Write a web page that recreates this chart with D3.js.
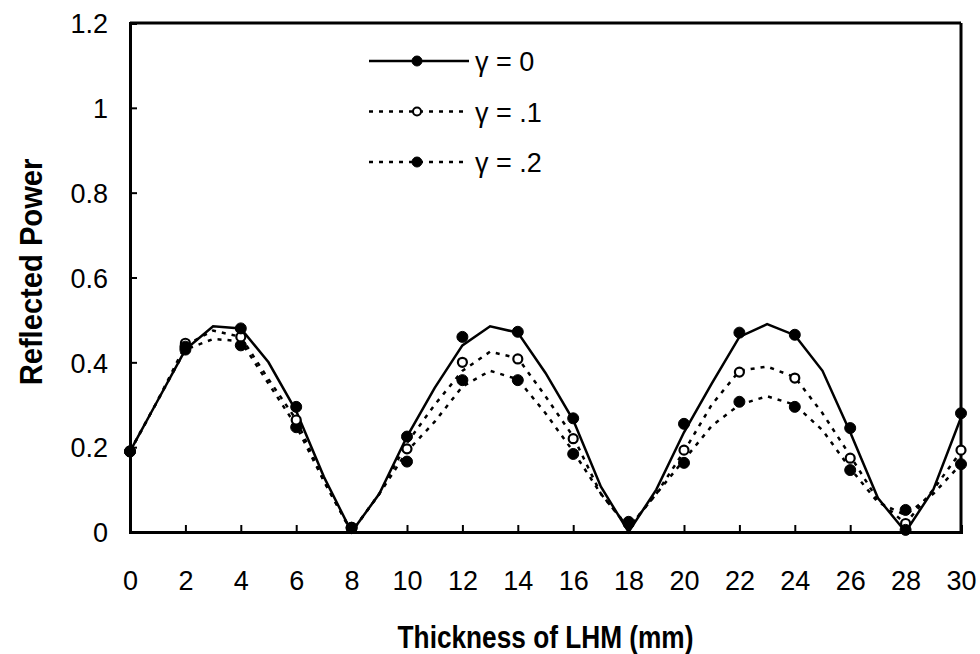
<!DOCTYPE html>
<html>
<head>
<meta charset="utf-8">
<script src="https://cdn.jsdelivr.net/npm/d3@7"></script>
<style>
  body { margin: 0; background: #fff; }
  text { font-family: "Liberation Sans", Arial, sans-serif; fill: #000; }
</style>
</head>
<body>
<svg id="chart" width="980" height="654"></svg>
<script>
// thickness (mm) for the curves, 1 mm steps
const thickness = d3.range(0, 31, 1);
// thickness for the markers, every 2 mm
const markerThickness = d3.range(0, 31, 2);

// curve values
const curveG0 = [0.19, 0.31, 0.43, 0.485, 0.48, 0.40, 0.285, 0.13, 0.0, 0.09, 0.225, 0.34, 0.44, 0.485, 0.47, 0.375, 0.264, 0.107, 0.0, 0.10, 0.235, 0.35, 0.46, 0.49, 0.464, 0.38, 0.235, 0.08, 0.0, 0.10, 0.27];
const curveG1 = [0.19, 0.31, 0.44, 0.475, 0.46, 0.36, 0.265, 0.12, 0.0, 0.09, 0.21, 0.30, 0.38, 0.425, 0.41, 0.32, 0.225, 0.09, 0.01, 0.09, 0.19, 0.30, 0.38, 0.39, 0.365, 0.28, 0.18, 0.075, 0.02, 0.10, 0.19];
const curveG2 = [0.19, 0.31, 0.43, 0.455, 0.45, 0.35, 0.25, 0.12, 0.0, 0.09, 0.19, 0.26, 0.343, 0.38, 0.36, 0.28, 0.19, 0.09, 0.01, 0.09, 0.17, 0.25, 0.30, 0.32, 0.30, 0.24, 0.15, 0.07, 0.04, 0.09, 0.16];

// marker values at even thickness
const markG0 = [0.19, 0.437, 0.48, 0.295, 0.01, 0.225, 0.46, 0.472, 0.268, 0.024, 0.255, 0.47, 0.465, 0.245, 0.005, 0.28];
const markG1 = [0.19, 0.445, 0.46, 0.264, 0.01, 0.196, 0.40, 0.408, 0.22, 0.02, 0.193, 0.377, 0.363, 0.174, 0.02, 0.193];
const markG2 = [0.19, 0.43, 0.44, 0.247, 0.01, 0.166, 0.358, 0.358, 0.184, 0.02, 0.163, 0.307, 0.295, 0.146, 0.052, 0.16];

const xTicks = d3.range(0, 31, 2);
const yTicks = [0, 0.2, 0.4, 0.6, 0.8, 1, 1.2];
const legendLabels = ['γ = 0', 'γ = .1', 'γ = .2'];

const series = [
  { name: legendLabels[0], curve: curveG0, marks: markG0, dash: null, open: false },
  { name: legendLabels[1], curve: curveG1, marks: markG1, dash: '4,6', open: true },
  { name: legendLabels[2], curve: curveG2, marks: markG2, dash: '4,6', open: false },
];

const svg = d3.select('#chart');
const x = d3.scaleLinear().domain([0, 30]).range([130, 961]);
const y = d3.scaleLinear().domain([0, 1.2]).range([532, 23]);

// axes with inside ticks
const xAxis = svg.append('g')
  .attr('transform', `translate(0,${y(0)})`)
  .call(d3.axisBottom(x).tickValues(xTicks).tickSize(-7).tickPadding(0).tickFormat(d3.format('d')));
xAxis.selectAll('text').attr('y', 58).attr('dy', 0).attr('font-size', 27);

const yAxis = svg.append('g')
  .attr('transform', `translate(${x(0)},0)`)
  .call(d3.axisLeft(y).tickValues(yTicks).tickSize(-7).tickPadding(22).tickFormat(d3.format('')));
yAxis.selectAll('text').attr('font-size', 27).attr('dy', '0.36em');

svg.selectAll('.domain').attr('stroke', '#000').attr('stroke-width', 3);
svg.selectAll('.tick line').attr('stroke', '#000').attr('stroke-width', 2);

// top and right frame
svg.append('line').attr('x1', x(0)).attr('x2', x(30)).attr('y1', y(1.2)).attr('y2', y(1.2))
  .attr('stroke', '#000').attr('stroke-width', 3);
svg.append('line').attr('x1', x(30)).attr('x2', x(30)).attr('y1', y(1.2)).attr('y2', y(0))
  .attr('stroke', '#000').attr('stroke-width', 3);

const line = d3.line().x((d, i) => x(thickness[i])).y(d => y(d));

series.forEach(s => {
  svg.append('path')
    .attr('d', line(s.curve))
    .attr('fill', 'none')
    .attr('stroke', '#000')
    .attr('stroke-width', 2.5)
    .attr('stroke-dasharray', s.dash);
});

series.slice().reverse().forEach(s => {
  svg.append('g').selectAll('circle')
    .data(s.marks)
    .enter()
    .append('circle')
    .attr('cx', (d, i) => x(markerThickness[i]))
    .attr('cy', d => y(d))
    .attr('r', s.open ? 4.5 : 5.5)
    .attr('fill', s.open ? '#fff' : '#000')
    .attr('stroke', '#000')
    .attr('stroke-width', s.open ? 2.2 : 1);
});

// legend
const legend = svg.append('g');
series.forEach((s, i) => {
  const ly = 61 + i * 50.5;
  legend.append('line').attr('x1', 369).attr('x2', 469).attr('y1', ly).attr('y2', ly)
    .attr('stroke', '#000').attr('stroke-width', 2.5).attr('stroke-dasharray', s.dash);
  legend.append('circle').attr('cx', 417).attr('cy', ly).attr('r', s.open ? 4 : 5)
    .attr('fill', s.open ? '#fff' : '#000').attr('stroke', '#000').attr('stroke-width', s.open ? 2 : 1);
  legend.append('text').attr('x', 475).attr('y', ly + 10).attr('font-size', 27).text(s.name);
});

// axis titles
svg.append('text')
  .attr('transform', `translate(${(x(0) + x(30)) / 2},648) scale(0.82,1)`)
  .attr('text-anchor', 'middle').attr('font-weight', 'bold').attr('font-size', 32)
  .text('Thickness of LHM (mm)');

svg.append('text')
  .attr('transform', 'translate(42,272) rotate(-90) scale(0.94,1)')
  .attr('text-anchor', 'middle').attr('font-weight', 'bold').attr('font-size', 31)
  .text('Reflected Power');
</script>
</body>
</html>
